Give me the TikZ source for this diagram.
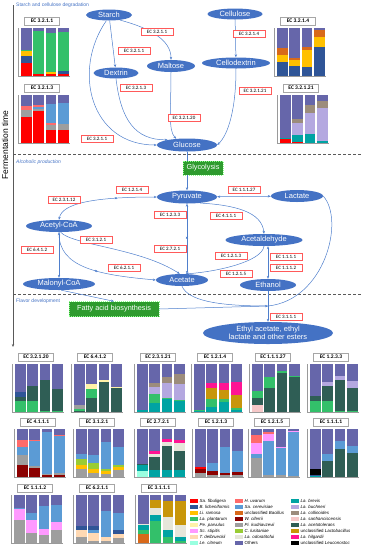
\documentclass[tikz,border=0pt]{standalone}
\usepackage{fontspec}
\setmainfont{Liberation Sans}
\newfontfamily\ecfont{Carlito}
\usetikzlibrary{shapes.geometric, arrows.meta, decorations.markings, calc}

\definecolor{metblue}{HTML}{4472C4}
\definecolor{flowblue}{HTML}{4F7FCC}
\definecolor{ecred}{HTML}{FF5A5A}
\definecolor{procgreen}{HTML}{2E9B2E}
\definecolor{axisgray}{HTML}{9A9A9A}
% species colours
\definecolor{sfib}{HTML}{FF0000}
\definecolor{blic}{HTML}{2F5597}
\definecolor{lram}{HTML}{FFC000}
\definecolor{lpla}{HTML}{33C06A}
\definecolor{ppar}{HTML}{FFF2A8}
\definecolor{ssti}{HTML}{FF99FF}
\definecolor{tdel}{HTML}{FFD9B3}
\definecolor{lcit}{HTML}{99FFE0}
\definecolor{huva}{HTML}{FF6B6B}
\definecolor{scer}{HTML}{5B9BD5}
\definecolor{ubac}{HTML}{D8691A}
\definecolor{wcif}{HTML}{8B0000}
\definecolor{pkud}{HTML}{9E9E9E}
\definecolor{clus}{HTML}{99CC33}
\definecolor{lodo}{HTML}{E6E6DA}
\definecolor{lbre}{HTML}{00A3A3}
\definecolor{lbuc}{HTML}{B4A8E0}
\definecolor{lcol}{HTML}{9C8C7C}
\definecolor{lsan}{HTML}{F6C8C8}
\definecolor{lace}{HTML}{2F5E55}
\definecolor{ulac}{HTML}{C8960A}
\definecolor{lhil}{HTML}{FF1493}
\definecolor{uleu}{HTML}{000000}
\definecolor{oth}{HTML}{6666AA}

\tikzset{
  met/.style={ellipse, fill=metblue, text=white, inner sep=0pt, font=\fontsize{7.5}{8.5}\selectfont},
  proc/.style={rectangle, fill=procgreen, draw=green!45!white, dash pattern=on 1pt off 1pt,
    text=white, inner sep=0pt, font=\fontsize{7.3}{8}\selectfont},
  ecbox/.style={rectangle, fill=white, draw=ecred, line width=0.6pt, minimum width=32pt,
    minimum height=7.5pt, inner xsep=2pt, inner ysep=0.5pt, font=\ecfont\fontsize{5}{5.5}\selectfont},
  chartbox/.style={rectangle, fill=white, draw=gray!70, line width=0.5pt, minimum width=35pt,
    minimum height=7.5pt, inner sep=0.5pt, font=\ecfont\bfseries\fontsize{5.5}{6}\selectfont},
  flow/.style={draw=flowblue, line width=0.5pt},
  revmark/.style={postaction={decorate, decoration={markings,
    mark=at position #1 with {\arrow{Stealth[length=2pt,width=2pt]}\arrow{Stealth[length=2pt,width=2pt,reversed]}}}}},
  divider/.style={draw=black!65, line width=0.6pt, dash pattern=on 3pt off 2pt},
  seclabel/.style={anchor=west, text=metblue, inner sep=0pt, font=\fontsize{5}{5.5}\selectfont},
  legtext/.style={anchor=west, inner sep=0pt, font=\fontsize{4.4}{4.8}\selectfont},
}

% stacked bar chart: name, centre x, base y, title, bars
\newcommand{\ecchart}[5]{%
  \begin{scope}[shift={(#2,#3)}]
    \foreach \segs [count=\i] in {#5} {
      \pgfmathsetmacro{\bx}{-24+12.4*(\i-1)}
      \fill[oth] (\bx,0) rectangle ++(10.6,-48);
      \foreach \col/\lo/\hi in \segs
        \fill[\col] (\bx,-0.48*\lo) rectangle (\bx+10.6,-0.48*\hi);
    }
    \draw[axisgray, line width=0.3pt] (-26.5,-48) -- (-26.5,0) -- (25,0);
    \foreach \t in {0,...,5}
      \draw[axisgray, line width=0.3pt] (-26.5,-9.6*\t) -- ++(-0.8,0);
    \node[chartbox] (#1) at (-3,-55) {#4};
  \end{scope}}

\begin{document}
\begin{tikzpicture}[x=1pt, y=-1pt, >={Stealth[length=3pt,width=2.4pt]}]
    \useasboundingbox (0,0) rectangle (365,550);

    % 1. Time axis, section dividers and headings
    \draw[black!65, line width=0.6pt, -{Stealth[length=3pt,width=2.4pt]}] (13,5) -- (13,347);
    \node[rotate=90, inner sep=0pt, font=\fontsize{8.5}{9}\selectfont] (ftime) at (5,145) {Fermentation time};
    \draw[divider] (13,154) -- (362,154);
    \draw[divider] (13,294) -- (362,294);
    \node[seclabel] (sec1) at (16,5) {Starch and cellulose degradation};
    \node[seclabel, font=\itshape\fontsize{5}{5.5}\selectfont] (sec2) at (16,162) {Alcoholic production};
    \node[seclabel] (sec3) at (16,301) {Flavor development};

    % 2. Metabolites
    \node[met, minimum width=46pt, minimum height=11pt] (starch) at (109,15) {Starch};
    \node[met, minimum width=55pt, minimum height=11pt] (cellulose) at (235,14) {Cellulose};
    \node[met, minimum width=45pt, minimum height=11pt] (dextrin) at (116,73) {Dextrin};
    \node[met, minimum width=48pt, minimum height=12pt] (maltose) at (171,66) {Maltose};
    \node[met, minimum width=68pt, minimum height=11pt] (cellodex) at (236,63) {Cellodextrin};
    \node[met, minimum width=60pt, minimum height=13pt] (glucose) at (187,145) {Glucose};
    \node[proc, minimum width=40pt, minimum height=14pt] (glycolysis) at (203,168) {Glycolysis};
    \node[met, minimum width=60pt, minimum height=13pt] (pyruvate) at (187,197) {Pyruvate};
    \node[met, minimum width=52pt, minimum height=12pt] (lactate) at (297,196) {Lactate};
    \node[met, minimum width=66pt, minimum height=12pt] (acetylcoa) at (59,226) {Acetyl-CoA};
    \node[met, minimum width=77pt, minimum height=12pt] (acetald) at (264,240) {Acetaldehyde};
    \node[met, minimum width=52pt, minimum height=12pt] (acetate) at (182,280) {Acetate};
    \node[met, minimum width=56pt, minimum height=12pt] (ethanol) at (268,285) {Ethanol};
    \node[met, minimum width=72pt, minimum height=12pt] (malonyl) at (59,284) {Malonyl-CoA};
    \node[proc, minimum width=90pt, minimum height=15pt] (fatty) at (114,309) {Fatty acid biosynthesis};
    \node[met, align=center, minimum width=130pt, minimum height=22pt] (esters) at (268,333)
        {Ethyl acetate, ethyl\\lactate and other esters};
    \coordinate (J) at (268,306);

    % 3. Pathways
    \draw[flow,->] (starch) -- (dextrin);
    \draw[flow,->] (starch.-25) .. controls (150,28) and (171,40) .. (maltose.north);
    \draw[flow,->] (starch.245) .. controls (72,70) and (90,145) .. (glucose.west);
    \draw[flow,->] (dextrin.south) .. controls (121,120) and (135,140) .. (glucose.165);
    \draw[flow,->] (maltose.south) .. controls (171,110) and (168,130) .. (glucose.150);
    \draw[flow,->] (cellulose) -- (cellodex);
    \draw[flow,->] (cellodex.south) .. controls (236,110) and (228,135) .. (glucose.east);
    \draw[flow] (glucose) -- (glucose |- glycolysis.north);
    \draw[flow,->] (glucose |- glycolysis.south) -- (pyruvate);
    \draw[flow,<->] (pyruvate) -- (lactate);
    \draw[flow,<->,revmark=0.62] (acetylcoa.north) .. controls (62,203) and (95,197) .. (pyruvate.west);
    \draw[flow,<->,revmark=0.5] (pyruvate.south) -- (pyruvate.south |- acetate.north);
    \draw[flow,->] (pyruvate.-25) .. controls (235,205) and (262,212) .. (acetald.north);
    \draw[flow,->] (acetald.south) .. controls (262,262) and (215,272) .. (acetate.60);
    \draw[flow,<->] (ethanol.north) -- (ethanol.north |- acetald.south);
    \draw[flow,->] (acetylcoa.-75) .. controls (72,245) and (140,248) .. (acetate.110);
    \draw[flow,->,revmark=0.5] (acetylcoa.south) .. controls (58,268) and (100,275) .. (acetate.west);
    \draw[flow,<->] (acetylcoa) -- (malonyl);
    \draw[flow,->] (malonyl.-70) -- (fatty.north);
    \draw[flow,->] (fatty.east) -- (J);
    \draw[flow] (acetate.south) .. controls (188,300) and (215,306) .. (J);
    \draw[flow] (ethanol.south) -- (J);
    \draw[flow] (lactate.east) .. controls (345,220) and (325,300) .. (J);
    \draw[flow,->] (J) -- (esters.north);

    % 4. Enzyme labels
    \foreach \x/\y/\t [count=\k] in {157/32/EC 3.2.1.1, 134/51/EC 3.2.1.1, 249/34/EC 3.2.1.4,
        136/88/EC 3.2.1.3, 255/91/EC 3.2.1.21, 184/118/EC 3.2.1.20, 97/139/EC 3.2.1.1,
        64/200/EC 2.3.1.12, 132/190/EC 1.2.1.4, 170/215/EC 1.2.3.3, 244/190/EC 1.1.1.27,
        226/216/EC 4.1.1.1, 37/250/EC 6.4.1.2, 96/240/EC 3.1.2.1, 170/249/EC 2.7.2.1,
        124/268/EC 6.2.1.1, 231/256/EC 1.2.1.3, 236/274/EC 1.2.1.5, 286/257/EC 1.1.1.1,
        286/268/EC 1.1.1.2, 286/317/EC 3.1.1.1}
        \node[ecbox] (ec\k) at (\x,\y) {\t};

    % 5. Community bar charts
    \ecchart{ch3211}{45}{76}{EC 3.2.1.1}{{sfib/0/28,blic/28/42,lram/42/52,lpla/52/55},
        {sfib/0/4,lpla/4/93}, {sfib/0/5,lram/5/8,lpla/8/90}, {sfib/0/5,blic/5/10,lpla/10/92}}
    \ecchart{ch3213}{45}{143}{EC 3.2.1.3}{{sfib/0/55,pkud/55/68,huva/68/78},
        {sfib/0/66,pkud/66/71,scer/71/75,huva/75/80}, {sfib/0/28,pkud/28/38,huva/38/41,scer/41/82},
        {sfib/0/28,pkud/28/40,scer/40/84}}
    \ecchart{ch3214}{301}{76}{EC 3.2.1.4}{{blic/0/30,lram/30/43,ubac/43/58},
        {blic/0/20,lram/20/34,ubac/34/38}, {blic/0/18,lram/18/55,ubac/55/60},
        {blic/0/60,lram/60/82,ubac/82/95}}
    \ecchart{ch32121}{304}{143}{EC 3.2.1.21}{{sfib/0/8,lbre/8/10},
        {sfib/0/3,lbre/3/16,lbuc/16/42,lcol/42/50}, {sfib/0/1,lbre/1/18,lbuc/18/62,lcol/62/80},
        {lbre/0/4,lbuc/4/72,lcol/72/88}}
    \ecchart{ch32120}{39}{412}{EC 3.2.1.20}{{lpla/0/22,lace/22/32,blic/32/42},
        {lpla/0/22,lace/22/55}, {lpla/0/3,lace/3/67}, {lpla/0/3,lace/3/48}}
    \ecchart{ch6412}{98}{412}{EC 6.4.1.2}{{lace/0/3,lpla/3/7,pkud/7/14},
        {lace/0/30,lpla/30/47,ppar/47/58}, {lace/0/62,ppar/62/66}, {lace/0/50,ppar/50/53}}
    \ecchart{ch23121}{161}{412}{EC 2.3.1.21}{{lbre/0/5},
        {lbre/0/18,lpla/18/37,lbuc/37/52,lcol/52/60}, {lbre/0/27,lpla/27/30,lbuc/30/60,lcol/60/72},
        {lbre/0/22,lpla/22/25,lbuc/25/58,lcol/58/80}}
    \ecchart{ch1214}{218}{412}{EC 1.2.1.4}{{lbre/0/3,lpla/3/5},
        {lbre/0/10,lpla/10/28,ulac/28/50,lhil/50/60}, {lbre/0/20,lpla/20/28,ulac/28/45,lhil/45/60},
        {lbre/0/5,lpla/5/8,ulac/8/35,lhil/35/62}}
    \ecchart{ch11127}{276}{412}{EC 1.1.1.27}{{lsan/0/15,lace/15/30,lpla/30/43},
        {lace/0/50,lpla/50/73}, {lace/0/82,lpla/82/85}, {lace/0/74,lpla/74/76}}
    \ecchart{ch1233}{334}{412}{EC 1.2.3.3}{{lpla/0/22,lace/22/33},
        {lpla/0/22,lace/22/55,lbuc/55/62}, {lpla/0/3,lace/3/67,lbuc/67/75},
        {lpla/0/3,lace/3/49,lbuc/49/65}}
    \ecchart{ch4111}{41}{477}{EC 4.1.1.1}{{wcif/0/25,pkud/25/45,scer/45/63,huva/63/78},
        {wcif/0/18,pkud/18/22,scer/22/74,huva/74/77}, {wcif/0/5,pkud/5/7,scer/7/93},
        {wcif/0/5,pkud/5/8,scer/8/85,huva/85/87}}
    \ecchart{ch3121}{100}{477}{EC 3.1.2.1}{{pkud/0/17,lram/17/24,clus/24/37,scer/37/47},
        {pkud/0/8,lram/8/17,clus/17/30,scer/30/45}, {pkud/0/6,lram/6/12,clus/12/17,scer/17/72},
        {pkud/0/15,lram/15/20,clus/20/24,scer/24/63}}
    \ecchart{ch2721}{161}{477}{EC 2.7.2.1}{{lcit/0/12,lbre/12/25,lace/25/28},
        {lbre/0/15,lace/15/42,lodo/42/48,lhil/48/55}, {lbre/0/15,lace/15/65,lodo/65/72,lhil/72/80},
        {lbre/0/15,lace/15/55,lodo/55/70,lhil/70/78}}
    \ecchart{ch1213}{219}{477}{EC 1.2.1.3}{{pkud/0/8,wcif/8/17,sfib/17/20},
        {pkud/0/4,wcif/4/13,scer/13/30}, {pkud/0/4,wcif/4/8,scer/8/62}, {pkud/0/4,wcif/4/10,scer/10/55}}
    \ecchart{ch1215}{275}{477}{EC 1.2.1.5}{{pkud/0/40,scer/40/48,ssti/48/70,huva/70/88},
        {pkud/0/5,scer/5/75,ssti/75/90,huva/90/93}, {pkud/0/4,scer/4/60,ssti/60/62},
        {pkud/0/2,scer/2/93,ssti/93/95}}
    \ecchart{ch1111}{334}{477}{EC 1.1.1.1}{{lbre/0/3,blic/3/5,uleu/5/17},
        {lace/0/33,scer/33/48}, {lace/0/58,scer/58/75}, {lace/0/50,scer/50/65}}
    \ecchart{ch1112}{38}{543}{EC 1.1.1.2}{{pkud/0/47,ssti/47/70,scer/70/72},
        {pkud/0/20,ssti/20/47,scer/47/62}, {pkud/0/17,ssti/17/30,scer/30/78},
        {pkud/0/27,ssti/27/43,scer/43/80}}
    \ecchart{ch6211}{100}{543}{EC 6.2.1.1}{{pkud/0/12,tdel/12/27,blic/27/36},
        {pkud/0/5,tdel/5/20,scer/20/27,blic/27/35}, {pkud/0/5,tdel/5/12,scer/12/67},
        {pkud/0/10,tdel/10/18,blic/18/27,scer/27/63}}
    \ecchart{ch3111}{162}{543}{EC 3.1.1.1}{{ubac/0/18,lpla/18/28,lbre/28/38,lodo/38/40},
        {lpla/0/45,lbre/45/58,lodo/58/72,ulac/72/90}, {lpla/0/12,lbre/12/28,lodo/28/55,ulac/55/88},
        {lpla/0/5,lbre/5/12,lodo/12/38,ulac/38/88}}

    % 6. Legend
    \foreach \col/\txt [count=\k] in {sfib/\textit{Sa. fibuligera}, blic/\textit{B. licheniformis},
        lram/\textit{Li. ramosa}, lpla/\textit{La. plantarum}, ppar/\textit{Pe. parvulus},
        ssti/\textit{Sc. stipitis}, tdel/\textit{T. delbrueckii}, lcit/\textit{Le. citreum}} {
        \fill[\col] (190,501+6*\k-6-2.2) rectangle (198,501+6*\k-6+2.2);
        \node[legtext] (lga\k) at (199.5,501+6*\k-6) {\txt};
    }
    \foreach \col/\txt [count=\k] in {huva/\textit{H. uvarum}, scer/\textit{Sa. cerevisiae},
        ubac/unclassified \textit{Bacillus}, wcif/\textit{W. ciferrii}, pkud/\textit{Pi. kudriavzevii},
        clus/\textit{C. lusitaniae}, lodo/\textit{La. odoratitofui}, oth/Others} {
        \fill[\col] (235,501+6*\k-6-2.2) rectangle (243,501+6*\k-6+2.2);
        \node[legtext] (lgb\k) at (244.5,501+6*\k-6) {\txt};
    }
    \foreach \col/\txt [count=\k] in {lbre/\textit{La. brevis}, lbuc/\textit{La. buchneri},
        lcol/\textit{La. collinoides}, lsan/\textit{La. sanfranciscensis}, lace/\textit{La. acetotolerans},
        ulac/unclassified \textit{Lactobacillus}, lhil/\textit{La. hilgardii}, uleu/unclassified \textit{Leuconostoc}} {
        \fill[\col] (291,501+6*\k-6-2.2) rectangle (299,501+6*\k-6+2.2);
        \node[legtext] (lgc\k) at (300.5,501+6*\k-6) {\txt};
    }
\end{tikzpicture}
\end{document}
